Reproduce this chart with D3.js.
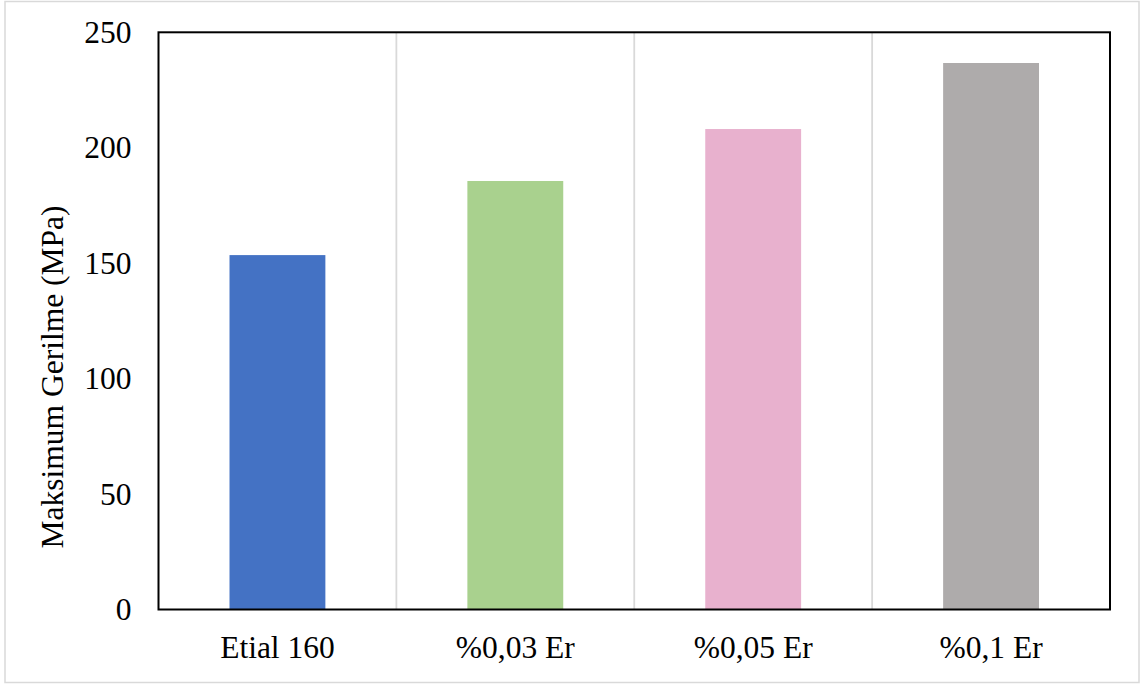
<!DOCTYPE html>
<html>
<head>
<meta charset="utf-8">
<script src="https://cdn.jsdelivr.net/npm/d3@7"></script>
<style>
html,body{margin:0;padding:0;background:#fff;}
svg{display:block;}
text{font-family:"Liberation Serif","Times New Roman",serif;fill:#000;}
</style>
</head>
<body>
<svg id="chart" width="1142" height="686"></svg>
<script>
const categories = ["Etial 160", "%0,03 Er", "%0,05 Er", "%0,1 Er"];
const values = [153.5, 185.6, 208.1, 236.7];
const colors = ["#4472C4", "#A9D18E", "#E8B1CE", "#AEABAB"];
const yTicks = [0, 50, 100, 150, 200, 250];
const yTitle = "Maksimum Gerilme (MPa)";

const svg = d3.select("#chart");
const plot = {left: 158.5, right: 1110, top: 32.3, bottom: 609.5};

// outer chart border
svg.append("rect")
  .attr("x", 5).attr("y", 1.5).attr("width", 1134).attr("height", 681)
  .attr("fill", "#fff").attr("stroke", "#d9d9d9").attr("stroke-width", 1.5);

const x = d3.scaleBand().domain(categories).range([plot.left, plot.right])
  .paddingInner(0.597).paddingOuter(0.2985);
const xGrid = d3.scaleBand().domain(categories).range([plot.left, plot.right]);
const y = d3.scaleLinear().domain([0, 250]).range([plot.bottom, plot.top]);

// vertical category separators
svg.append("g").selectAll("line")
  .data(categories.slice(1))
  .join("line")
  .attr("x1", d => xGrid(d)).attr("x2", d => xGrid(d))
  .attr("y1", plot.top).attr("y2", plot.bottom)
  .attr("stroke", "#d9d9d9").attr("stroke-width", 1.8);

// bars
svg.append("g").selectAll("rect")
  .data(values)
  .join("rect")
  .attr("x", (d, i) => x(categories[i]))
  .attr("width", x.bandwidth())
  .attr("y", d => y(d))
  .attr("height", d => y(0) - y(d))
  .attr("fill", (d, i) => colors[i]);

// plot border
svg.append("rect")
  .attr("x", plot.left).attr("y", plot.top)
  .attr("width", plot.right - plot.left).attr("height", plot.bottom - plot.top)
  .attr("fill", "none").attr("stroke", "#000").attr("stroke-width", 2);

// y axis
const yAxis = d3.axisLeft(y).tickValues(yTicks).tickSize(0).tickPadding(27);
const yg = svg.append("g").attr("transform", `translate(${plot.left},0)`).call(yAxis);
yg.select(".domain").remove();
yg.selectAll("text").attr("font-size", "31.5px")
  .attr("font-family", "Liberation Serif, serif").attr("fill", "#000");

// x axis
const xAxis = d3.axisBottom(xGrid).tickSize(0).tickPadding(26);
const xg = svg.append("g").attr("transform", `translate(0,${plot.bottom})`).call(xAxis);
xg.select(".domain").remove();
xg.selectAll("text").attr("font-size", "31.5px")
  .attr("font-family", "Liberation Serif, serif").attr("fill", "#000");

// y title
svg.append("text")
  .attr("transform", "translate(63,377) rotate(-90)")
  .attr("text-anchor", "middle")
  .attr("font-size", "31.5px")
  .text(yTitle);
</script>
</body>
</html>
